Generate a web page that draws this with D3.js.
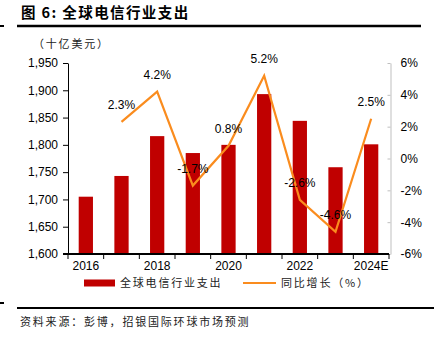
<!DOCTYPE html>
<html>
<head>
<meta charset="utf-8">
<script src="https://cdn.jsdelivr.net/npm/d3@7"></script>
<style>
  body { margin: 0; background: #fff; }
  svg { display: block; }
  .num { font-family: "Liberation Sans", Arial, sans-serif; font-size: 12px; fill: #000; }
  .cjk { font-family: "Noto Sans CJK SC", sans-serif; font-size: 11px; fill: #222; letter-spacing: 1.8px; }
</style>
</head>
<body>
<script>
// data
var years = ["2016", "2017", "2018", "2019", "2020", "2021", "2022", "2023", "2024E"];
var spending = [1705, 1743, 1816, 1785, 1800, 1893, 1844, 1759, 1801];
var growth = [null, 2.3, 4.2, -1.7, 0.8, 5.2, -2.6, -4.6, 2.5];
var yearLabels = ["2016", "2018", "2020", "2022", "2024E"];
var leftTicks = [1600, 1650, 1700, 1750, 1800, 1850, 1900, 1950];
var rightTicks = [-6, -4, -2, 0, 2, 4, 6];

var W = 434, H = 340;
var plot = { left: 68, right: 389, top: 63, bottom: 254 };

var svg = d3.select("body").append("svg")
  .attr("width", W)
  .attr("height", H);

// header
svg.append("text")
  .attr("x", 21).attr("y", 18)
  .style("font-family", "'Noto Sans CJK SC', sans-serif")
  .style("font-size", "14.5px")
  .style("font-weight", "bold")
  .style("letter-spacing", "1.4px")
  .text("图 6: 全球电信行业支出");
svg.append("line").attr("x1", 0).attr("x2", 4).attr("y1", 26).attr("y2", 26)
  .attr("stroke", "#000").attr("stroke-width", 2);
svg.append("line").attr("x1", 17).attr("x2", 421).attr("y1", 26).attr("y2", 26)
  .attr("stroke", "#000").attr("stroke-width", 2.5);

svg.append("text").attr("class", "cjk")
  .attr("x", 33).attr("y", 48)
  .text("（十亿美元）");

// scales
var x = d3.scaleBand()
  .domain(years)
  .range([plot.left, plot.right])
  .paddingInner(0.6)
  .paddingOuter(0.3);
var y = d3.scaleLinear().domain([1600, 1950]).range([plot.bottom, plot.top]);
var y2 = d3.scaleLinear().domain([-6, 6]).range([plot.bottom, plot.top]);

// bars
var data = years.map(function (d, i) { return { year: d, value: spending[i], g: growth[i] }; });
svg.selectAll(".bar")
  .data(data)
  .enter().append("rect")
  .attr("class", "bar")
  .attr("x", function (d) { return x(d.year); })
  .attr("width", x.bandwidth())
  .attr("y", function (d) { return y(d.value); })
  .attr("height", function (d) { return y(1600) - y(d.value); })
  .attr("fill", "#C00000");

// growth line
var pts = data.filter(function (d) { return d.g !== null; });
var line = d3.line()
  .x(function (d) { return x(d.year) + x.bandwidth() / 2; })
  .y(function (d) { return y2(d.g); });
svg.append("path")
  .datum(pts)
  .attr("d", line)
  .attr("fill", "none")
  .attr("stroke", "#FA8C1E")
  .attr("stroke-width", 2.2)
  .attr("stroke-linejoin", "miter");

svg.selectAll(".lbl")
  .data(pts)
  .enter().append("text")
  .attr("class", "num lbl")
  .attr("text-anchor", "middle")
  .attr("x", function (d) { return x(d.year) + x.bandwidth() / 2; })
  .attr("y", function (d) { return y2(d.g) - 13; })
  .text(function (d) { return d.g.toFixed(1) + "%"; });

// left axis
var gl = svg.append("g")
  .attr("transform", "translate(" + plot.left + ",0)")
  .call(d3.axisLeft(y).tickValues(leftTicks).tickFormat(d3.format(",")).tickSize(5).tickSizeOuter(0));
gl.select(".domain").attr("stroke", "#000");
gl.selectAll("text").attr("class", "num").attr("x", -10).style("font-size", "12px");

// right axis
var gr = svg.append("g")
  .attr("transform", "translate(" + (plot.right + 1.5) + ",0)")
  .call(d3.axisRight(y2).tickValues(rightTicks).tickFormat(function (d) { return d + "%"; }).tickSize(-3).tickSizeOuter(0));
gr.select(".domain").attr("stroke", "#BFBFBF");
gr.selectAll(".tick line").attr("stroke", "#BFBFBF");
gr.selectAll("text").attr("class", "num").attr("x", 10).style("font-size", "12px");

// x axis: tick marks on band boundaries, labels every other year
var gap = (x.step() - x.bandwidth()) / 2;
var bounds = years.map(function (d) { return x(d) - gap; }).concat([plot.right]);
svg.selectAll(".xtick")
  .data(bounds)
  .enter().append("line")
  .attr("x1", function (d) { return d; })
  .attr("x2", function (d) { return d; })
  .attr("y1", plot.bottom)
  .attr("y2", plot.bottom + 5)
  .attr("stroke", "#000");
svg.append("line")
  .attr("x1", plot.left - 5).attr("x2", plot.right)
  .attr("y1", plot.bottom).attr("y2", plot.bottom)
  .attr("stroke", "#000").attr("stroke-width", 2);
svg.selectAll(".xlbl")
  .data(yearLabels)
  .enter().append("text")
  .attr("class", "num")
  .attr("text-anchor", "middle")
  .attr("x", function (d) { return x(d) + x.bandwidth() / 2; })
  .attr("y", plot.bottom + 16)
  .text(function (d) { return d; });

// legend
var lg = svg.append("g").attr("transform", "translate(0,283)");
lg.append("rect").attr("x", 84).attr("y", -3.5).attr("width", 31).attr("height", 7).attr("fill", "#C00000");
lg.append("text").attr("class", "cjk").attr("x", 120).attr("y", 4).text("全球电信行业支出");
lg.append("line").attr("x1", 243).attr("x2", 276).attr("y1", 0).attr("y2", 0)
  .attr("stroke", "#FA8C1E").attr("stroke-width", 2.2);
lg.append("text").attr("class", "cjk").attr("x", 281).attr("y", 4).text("同比增长（%）");

// footer
svg.append("line").attr("x1", 0).attr("x2", 4).attr("y1", 303).attr("y2", 303)
  .attr("stroke", "#000").attr("stroke-width", 2);
svg.append("line").attr("x1", 17).attr("x2", 434).attr("y1", 308).attr("y2", 308)
  .attr("stroke", "#000").attr("stroke-width", 2);
svg.append("text").attr("class", "cjk")
  .attr("x", 20).attr("y", 326)
  .text("资料来源：彭博，招银国际环球市场预测");
</script>
</body>
</html>
